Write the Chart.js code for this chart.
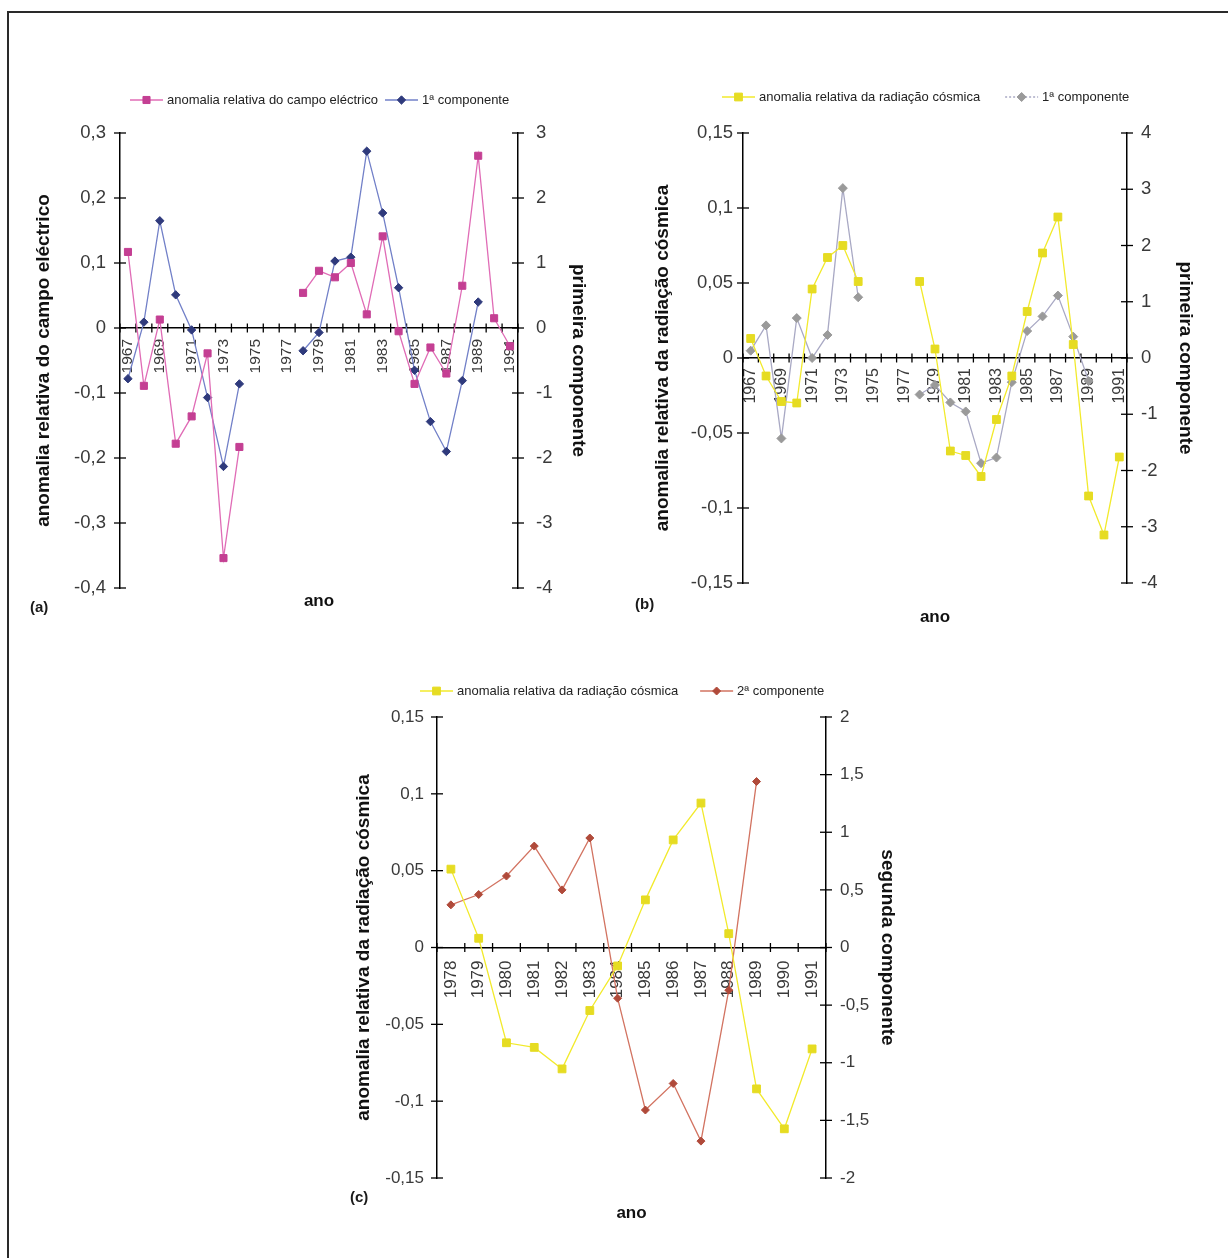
<!DOCTYPE html>
<html lang="pt">
<head>
<meta charset="utf-8">
<title>Anomalias relativas e componentes principais</title>
<script src="https://cdn.jsdelivr.net/npm/chart.js@4.4.1/dist/chart.umd.min.js"></script>
<style>
  html, body { margin: 0; padding: 0; background: #fff; }
  body { width: 1228px; height: 1258px; position: relative; overflow: hidden; font-family: "Liberation Sans", Arial, sans-serif; }
  .frame { position: absolute; left: 7px; top: 11px; width: 1240px; height: 1260px; border-left: 2px solid #2a2a2a; border-top: 2px solid #2a2a2a; }
  canvas { position: absolute; }
  .tag { position: absolute; font-weight: bold; font-size: 15px; color: #1a1a1a; }
</style>
</head>
<body>
<div class="frame"></div>
<canvas id="chartA" width="628" height="550" style="left:0;top:70px"></canvas>
<canvas id="chartB" width="608" height="570" style="left:620px;top:70px"></canvas>
<canvas id="chartC" width="660" height="580" style="left:300px;top:660px"></canvas>
<div class="tag" style="left:30px;top:598px">(a)</div>
<div class="tag" style="left:635px;top:595px">(b)</div>
<div class="tag" style="left:350px;top:1188px">(c)</div>

<script>
// ---- Anos ----
const anosAB = ['1967','1968','1969','1970','1971','1972','1973','1974','1975','1976','1977','1978','1979',
                '1980','1981','1982','1983','1984','1985','1986','1987','1988','1989','1990','1991'];
const anosC = ['1978','1979','1980','1981','1982','1983','1984','1985','1986','1987','1988','1989','1990','1991'];

// ---- (a) campo eléctrico e 1ª componente ----
const campoEletrico = [0.117, -0.089, 0.013, -0.178, -0.136, -0.039, -0.354, -0.183, null, null, null,
                       0.054, 0.088, 0.078, 0.100, 0.021, 0.141, -0.005, -0.086, -0.030, -0.070, 0.065, 0.265, 0.015, -0.028];
const componente1A = [-0.78, 0.09, 1.65, 0.51, -0.03, -1.07, -2.13, -0.86, null, null, null,
                      -0.35, -0.07, 1.03, 1.09, 2.72, 1.77, 0.62, -0.65, -1.44, -1.90, -0.81, 0.40, null, null];

// ---- (b) radiação cósmica e 1ª componente ----
const radiacaoCosmica = [0.013, -0.012, -0.029, -0.030, 0.046, 0.067, 0.075, 0.051, null, null, null,
                         0.051, 0.006, -0.062, -0.065, -0.079, -0.041, -0.012, 0.031, 0.070, 0.094, 0.009, -0.092, -0.118, -0.066];
const componente1B = [0.13, 0.58, -1.43, 0.71, 0.00, 0.41, 3.02, 1.08, null, null, null,
                      -0.65, -0.48, -0.79, -0.95, -1.87, -1.77, -0.43, 0.48, 0.74, 1.11, 0.38, -0.41, null, null];

// ---- (c) radiação cósmica (1978-1991) e 2ª componente ----
const radiacaoCosmicaC = radiacaoCosmica.slice(anosAB.indexOf('1978'));
const componente2C = [0.37, 0.46, 0.62, 0.88, 0.50, 0.95, -0.44, -1.41, -1.18, -1.68, -0.37, 1.44, null, null];

// ---- Marcas dos eixos ----
const ticksEsqA = [-0.4, -0.3, -0.2, -0.1, 0, 0.1, 0.2, 0.3];
const ticksDirA = [-4, -3, -2, -1, 0, 1, 2, 3];
const ticksEsqB = [-0.15, -0.1, -0.05, 0, 0.05, 0.1, 0.15];
const ticksDirB = [-4, -3, -2, -1, 0, 1, 2, 3, 4];
const ticksEsqC = [-0.15, -0.1, -0.05, 0, 0.05, 0.1, 0.15];
const ticksDirC = [-2, -1.5, -1, -0.5, 0, 0.5, 1, 1.5, 2];

Chart.defaults.font.family = "'Liberation Sans', Arial, Helvetica, sans-serif";
Chart.defaults.color = '#3a3a3a';

const fmt = v => String(Math.round(v * 1000) / 1000).replace('.', ',');

function drawMarker(ctx, style, r, x, y) {
  ctx.beginPath();
  if (style === 'rect') {
    const h = r * Math.SQRT1_2;
    ctx.rect(x - h, y - h, 2 * h, 2 * h);
  } else {
    ctx.moveTo(x - r, y); ctx.lineTo(x, y - r); ctx.lineTo(x + r, y); ctx.lineTo(x, y + r); ctx.closePath();
  }
  ctx.fill(); ctx.stroke();
}

// Legenda em linha (traço + marcador + texto), acima da área do gráfico
const lineLegend = {
  id: 'lineLegend',
  afterDraw(chart, args, o) {
    const ctx = chart.ctx, area = chart.chartArea;
    ctx.save();
    ctx.font = o.font;
    ctx.textBaseline = 'middle';
    const y = area.top + o.dy;
    let x = area.left + o.dx;
    chart.data.datasets.forEach(ds => {
      ctx.strokeStyle = ds.borderColor; ctx.lineWidth = ds.borderWidth;
      ctx.setLineDash(ds.legendDash || []);
      ctx.beginPath(); ctx.moveTo(x, y); ctx.lineTo(x + o.symbol, y); ctx.stroke();
      ctx.setLineDash([]);
      ctx.fillStyle = ds.pointBackgroundColor; ctx.strokeStyle = ds.pointBorderColor; ctx.lineWidth = 1;
      drawMarker(ctx, ds.pointStyle, ds.pointRadius, x + o.symbol / 2, y);
      ctx.fillStyle = o.color;
      const tx = x + o.symbol + o.gap;
      ctx.fillText(ds.label, tx, y);
      x = tx + ctx.measureText(ds.label).width + o.spacing;
    });
    ctx.restore();
  }
};

// Marcas cruzadas nos eixos (y à esquerda/direita, x sobre a linha do zero)
const crossTicks = {
  id: 'crossTicks',
  beforeDatasetsDraw(chart) {
    const {ctx, scales, chartArea} = chart;
    ctx.save();
    ctx.strokeStyle = '#000';
    ctx.lineWidth = 1.3;
    const seg = (x1, y1, x2, y2) => { ctx.beginPath(); ctx.moveTo(x1, y1); ctx.lineTo(x2, y2); ctx.stroke(); };
    ['y', 'y1'].forEach(id => {
      const s = scales[id];
      const x = id === 'y' ? chartArea.left : chartArea.right;
      s.ticks.forEach(t => { const py = s.getPixelForValue(t.value); seg(x - 6, py, x + 6, py); });
    });
    const sx = scales.x;
    const zero = scales.y.getPixelForValue(0);
    const n = sx.ticks.length;
    const step = n > 1 ? sx.getPixelForValue(1) - sx.getPixelForValue(0) : sx.width;
    for (let i = 0; i <= n; i++) {
      const px = sx.getPixelForValue(Math.min(i, n - 1)) + (i < n ? -step / 2 : step / 2);
      seg(px, zero - 4.5, px, zero + 4.5);
    }
    ctx.restore();
  }
};

function yScale(position, ticksArr, titleText, width, pad, titlePad, g) {
  return {
    position,
    min: ticksArr[0], max: ticksArr[ticksArr.length - 1],
    afterBuildTicks: s => { s.ticks = ticksArr.map(v => ({ value: v })); },
    afterFit: s => { s.width = width; },
    grid: { display: true, drawOnChartArea: false, drawTicks: false },
    border: { display: true, color: '#000', width: 1.5 },
    ticks: { padding: pad, color: '#3a3a3a', font: { size: g.yFont }, callback: v => fmt(v) },
    title: { display: true, text: titleText, color: '#111', font: { size: g.titleFont, weight: 'bold' },
             padding: { top: titlePad, bottom: 0 } }
  };
}

function buildChart(id, cfg) {
  const g = cfg.geo;
  return new Chart(document.getElementById(id), {
    type: 'line',
    data: {
      labels: cfg.labels,
      datasets: cfg.series.map(s => ({
        label: s.label, data: s.data, yAxisID: s.axis,
        borderColor: s.line, borderWidth: 1.3, legendDash: s.legendDash,
        pointStyle: s.marker, pointRadius: s.radius, pointHoverRadius: s.radius,
        pointBackgroundColor: s.fill, pointBorderColor: s.fill, pointBorderWidth: 1,
        tension: 0, spanGaps: false, fill: false
      }))
    },
    options: {
      responsive: false, animation: false, devicePixelRatio: 1, events: [],
      layout: { padding: { left: 0, right: 0, top: g.padTop, bottom: g.padBottom } },
      plugins: {
        legend: { display: false },
        tooltip: { enabled: false },
        title: { display: true, text: 'ano', position: 'bottom', fullSize: false, color: '#111',
                 font: { size: 17, weight: 'bold' }, padding: { top: g.anoPad, bottom: 0 } },
        lineLegend: { dx: g.legX, dy: g.legY, spacing: g.legGap, symbol: 33, gap: 4,
                      font: "13px 'Liberation Sans', Arial, sans-serif", color: '#222' }
      },
      scales: {
        x: {
          type: 'category', offset: true, position: { y: 0 },
          grid: { display: true, drawOnChartArea: false, drawTicks: false, offset: true },
          border: { display: true, color: '#000', width: 1.5 },
          ticks: {
            autoSkip: false, minRotation: 90, maxRotation: 90, padding: g.xPad, color: '#3a3a3a', font: { size: g.xFont },
            callback(v, i) { return i % cfg.every === 0 ? this.getLabelForValue(v) : ''; }
          }
        },
        y: yScale('left', cfg.leftTicks, cfg.leftTitle, g.leftW, g.leftPad, g.leftTitlePad, g),
        y1: yScale('right', cfg.rightTicks, cfg.rightTitle, g.rightW, g.rightPad, g.rightTitlePad, g)
      }
    },
    plugins: [crossTicks, lineLegend]
  });
}

// (a)
buildChart('chartA', {
  labels: anosAB, every: 2,
  leftTicks: ticksEsqA, rightTicks: ticksDirA,
  leftTitle: 'anomalia relativa do campo eléctrico', rightTitle: 'primeira componente',
  geo: { padTop: 63, padBottom: 8.8, anoPad: 2.8, leftW: 120, rightW: 110, leftPad: 14, rightPad: 18,
         leftTitlePad: 32.6, rightTitlePad: 38.6, xPad: 11, legX: 10, legY: -33, legGap: 7,
         yFont: 18.5, xFont: 15.5, titleFont: 19 },
  series: [
    { label: 'anomalia relativa do campo eléctrico', data: campoEletrico, axis: 'y',
      line: '#e06cb6', fill: '#c43f93', marker: 'rect', radius: 5 },
    { label: '1ª componente', data: componente1A, axis: 'y1',
      line: '#7280c8', fill: '#2f3a7c', marker: 'rectRot', radius: 4.2 }
  ]
});

// (b)
buildChart('chartB', {
  labels: anosAB, every: 2,
  leftTicks: ticksEsqB, rightTicks: ticksDirB,
  leftTitle: 'anomalia relativa da radiação cósmica', rightTitle: 'primeira componente',
  geo: { padTop: 63, padBottom: 12.8, anoPad: 23.8, leftW: 123, rightW: 101, leftPad: 10, rightPad: 14,
         leftTitlePad: 31.6, rightTitlePad: 31.6, xPad: 10, legX: -21, legY: -36, legGap: 25,
         yFont: 18.5, xFont: 16, titleFont: 19 },
  series: [
    { label: 'anomalia relativa da radiação cósmica', data: radiacaoCosmica, axis: 'y',
      line: '#f2ea2c', fill: '#e6dc22', marker: 'rect', radius: 5.5 },
    { label: '1ª componente', data: componente1B, axis: 'y1',
      line: '#a9a9c4', fill: '#9a9a9a', marker: 'rectRot', radius: 4.5, legendDash: [2, 2] }
  ]
});

// (c)
buildChart('chartC', {
  labels: anosC, every: 1,
  leftTicks: ticksEsqC, rightTicks: ticksDirC,
  leftTitle: 'anomalia relativa da radiação cósmica', rightTitle: 'segunda componente',
  geo: { padTop: 57, padBottom: 16.8, anoPad: 24.8, leftW: 137, rightW: 134, leftPad: 13, rightPad: 14,
         leftTitlePad: 52.6, rightTitlePad: 61.6, xPad: 13, legX: -17, legY: -26, legGap: 22,
         yFont: 17, xFont: 17, titleFont: 19 },
  series: [
    { label: 'anomalia relativa da radiação cósmica', data: radiacaoCosmicaC, axis: 'y',
      line: '#f2ea2c', fill: '#e6dc22', marker: 'rect', radius: 5.5 },
    { label: '2ª componente', data: componente2C, axis: 'y1',
      line: '#d27361', fill: '#b04a3a', marker: 'rectRot', radius: 4 }
  ]
});
</script>
</body>
</html>
